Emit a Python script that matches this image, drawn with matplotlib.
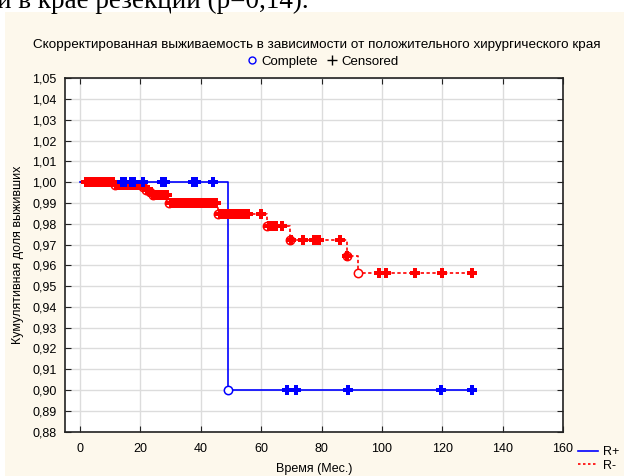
import numpy as np
import matplotlib
matplotlib.use("Agg")
from matplotlib import pyplot as plt
from matplotlib.lines import Line2D
from matplotlib.patches import Rectangle

plt.rcParams['font.family'] = ['Liberation Sans', 'DejaVu Sans']

# R+ group: step times / survival, censored times
rplus_times = [0, 48.9]
rplus_surv = [1.00, 0.90]
rplus_cens = [14.0, 14.8, 17.0, 17.8, 21.0, 27.0, 28.0, 37.5, 38.3, 44.0,
              68.7, 71.7, 88.7, 119.5, 129.7]

# R- group
rminus_times = [0, 11.5, 21.0, 22.0, 23.0, 24.0, 29.5, 45.8, 61.8, 69.5, 88.5, 92.0]
rminus_surv = [1.000, 0.9986, 0.9975, 0.9963, 0.9951, 0.9938, 0.9900,
               0.9848, 0.9788, 0.9720, 0.9644, 0.9564]
rminus_cens = [2.0, 2.5, 3.0, 3.5, 4.0, 4.5, 5.0, 5.5, 6.0, 6.5, 7.0, 7.5, 8.0,
               8.5, 9.0, 9.5, 10.0, 10.5, 11.0,
               12.0, 12.5, 13.0, 13.5, 14.0, 15.0, 15.5, 16.0, 17.0, 17.5,
               18.0, 18.5, 19.0, 19.5, 20.0, 20.5,
               21.3, 21.6, 22.3, 22.6, 23.3, 23.6,
               24.3, 24.8, 25.3, 25.8, 26.3, 26.8, 27.3, 27.8, 28.3, 28.8,
               30.0, 30.5, 31.0, 31.5, 32.0, 32.5, 33.0, 33.5, 34.0, 34.5,
               35.0, 35.5, 36.0, 36.5, 37.0, 37.5, 38.0, 38.5, 39.0, 39.5,
               40.0, 40.5, 41.0, 41.5, 42.0, 42.5, 43.0, 43.5, 44.0, 44.5, 45.0,
               46.5, 47.0, 48.0, 49.0, 50.0, 51.0, 52.0, 53.0, 53.5, 54.0,
               54.5, 55.0, 55.5, 60.0,
               62.5, 63.0, 63.5, 64.0, 64.5, 65.0, 67.0,
               70.0, 74.0, 77.5, 78.0, 79.0, 86.0,
               88.5,
               99.0, 101.5, 111.0, 120.0, 130.0]
t_end = 130.0

title = "Скорректированная выживаемость в зависимости от положительного хирургического края"
xlabel = "Время (Мес.)"
ylabel = "Кумулятивная доля выживших"
xticks = [0, 20, 40, 60, 80, 100, 120, 140, 160]
yticks = np.round(np.arange(0.88, 1.0501, 0.01), 2)

W, H = 624, 476
fig = plt.figure(figsize=(W / 100, H / 100), dpi=100, facecolor='white')
fig.patches.append(Rectangle((5 / W, 0), 1, 1 - 12 / H, transform=fig.transFigure,
                             facecolor='#fdf8ec', edgecolor='none', zorder=-10))
fig.text(-3 / W, 1 - 8 / H, "и в крае резекции (р=0,14).", family='Liberation Serif',
         fontsize=19.5, va='baseline', ha='left')

ax = fig.add_axes([65 / W, (H - 431.6) / H, (563 - 65) / W, (431.6 - 78.3) / H])
ax.set_facecolor('white')


def draw_group(times, surv, cens, color, ls):
    t = list(times) + [t_end]
    s = list(surv) + [surv[-1]]
    ax.step(t, s, where='post', color=color, lw=1.2, ls=ls, zorder=3)
    # complete events
    ax.plot(times[1:], surv[1:], ls='none', marker='o', ms=6, mfc='white',
            mec=color, mew=1.1, zorder=4)
    # censored observations sit on the curve
    idx = np.searchsorted(times, cens, side='right') - 1
    cy = np.array(surv)[idx]
    ax.plot(cens, cy, ls='none', marker='P', ms=6.5, color=color, mew=0, zorder=5)


draw_group(rminus_times, rminus_surv, rminus_cens, '#ff0000', (0, (2, 1.5)))
draw_group(rplus_times, rplus_surv, rplus_cens, '#0000ff', '-')

ax.set_xlim(-5, 160)
ax.set_ylim(0.88, 1.05)
ax.set_xticks(xticks)
ax.set_yticks(yticks)
ax.set_yticklabels([f"{v:.2f}".replace('.', ',') for v in yticks])
ax.grid(True, color='#dcdcdc', lw=1)
ax.set_axisbelow(True)
ax.tick_params(direction='in', top=True, right=True, length=4, labelsize=9,
               color='#222222')
ax.tick_params(axis='x', pad=8)
ax.tick_params(axis='y', pad=6)
for sp in ax.spines.values():
    sp.set_color('#222222')
    sp.set_linewidth(1.2)

ax.set_xlabel(xlabel, fontsize=9, labelpad=6)
ax.set_ylabel(ylabel, fontsize=9, labelpad=6)

fig.text(317 / W, 1 - 45 / H, title, fontsize=9.7, ha='center', va='center')
top_handles = [Line2D([], [], ls='none', marker='o', ms=5, mfc='none', mec='#0000ff', mew=1),
               Line2D([], [], ls='none', marker='+', ms=7, color='black', mew=1)]
fig.legend(top_handles, ['Complete', 'Censored'], loc='center', ncol=2,
           bbox_to_anchor=(322 / W, 1 - 62 / H), frameon=False, fontsize=9.5,
           handletextpad=0.2, columnspacing=0.6, handlelength=1.0)

grp_handles = [Line2D([], [], color='#0000ff', lw=1.2),
               Line2D([], [], color='#ff0000', lw=1.2, ls=(0, (1.5, 1.5)))]
fig.legend(grp_handles, ['R+', 'R-'], loc='center', bbox_to_anchor=(599 / W, 1 - 459 / H),
           frameon=False, fontsize=9, handlelength=1.6, handletextpad=0.4,
           labelspacing=0.1, borderpad=0)

fig.savefig('out.png', dpi=100, facecolor=fig.get_facecolor())
